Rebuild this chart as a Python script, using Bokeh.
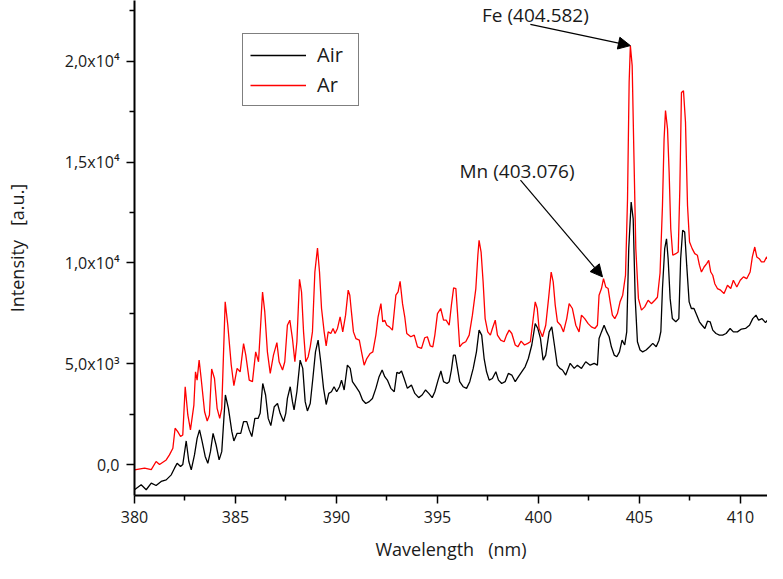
from bokeh.plotting import figure
from bokeh.models import (FixedTicker, Legend, LegendItem, Label, Arrow,
                          NormalHead, Range1d)
from bokeh.embed import file_html
from bokeh.resources import INLINE

# ---------------- data ----------------
wl_ar = [380.0, 380.5, 380.83, 381.07, 381.24, 381.57, 381.73, 381.9, 382.01, 382.14,
         382.28, 382.39, 382.51, 382.64, 382.77, 382.94, 383.02, 383.1, 383.2, 383.3,
         383.47, 383.6, 383.71, 383.82, 383.96, 384.09, 384.22, 384.32, 384.49, 384.62,
         384.79, 384.92, 385.08, 385.23, 385.4, 385.51, 385.68, 385.84, 386.0, 386.14,
         386.34, 386.45, 386.58, 386.72, 386.88, 387.05, 387.16, 387.33, 387.44, 387.57,
         387.69, 387.82, 387.94, 388.04, 388.17, 388.27, 388.37, 388.48, 388.6, 388.7,
         388.81, 388.93, 389.06, 389.16, 389.26, 389.39, 389.49, 389.59, 389.72, 389.83,
         389.93, 390.05, 390.18, 390.31, 390.45, 390.58, 390.66, 390.74, 390.84, 390.96,
         391.13, 391.24, 391.37, 391.5, 391.67, 391.8, 391.95, 392.06, 392.2, 392.29,
         392.39, 392.49, 392.62, 392.77, 392.94, 393.05, 393.15, 393.27, 393.38, 393.48,
         393.68, 393.85, 394.01, 394.21, 394.37, 394.5, 394.64, 394.77, 394.87, 395.0,
         395.16, 395.3, 395.43, 395.58, 395.69, 395.8, 395.91, 395.99, 396.1, 396.24,
         396.4, 396.57, 396.73, 396.9, 397.0, 397.06, 397.16, 397.26, 397.36, 397.49,
         397.62, 397.72, 397.86, 397.97, 398.13, 398.3, 398.42, 398.55, 398.68, 398.85,
         398.98, 399.14, 399.31, 399.47, 399.6, 399.7, 399.84, 399.94, 400.03, 400.2,
         400.36, 400.5, 400.63, 400.73, 400.83, 400.94, 401.1, 401.24, 401.4, 401.52,
         401.68, 401.85, 402.01, 402.13, 402.29, 402.46, 402.62, 402.79, 402.92, 403.0,
         403.12, 403.22, 403.33, 403.45, 403.55, 403.66, 403.78, 403.91, 404.04, 404.17,
         404.31, 404.41, 404.49, 404.55, 404.64, 404.72, 404.82, 404.95, 405.1, 405.26,
         405.43, 405.59, 405.76, 405.89, 406.02, 406.14, 406.22, 406.29, 406.39, 406.47,
         406.55, 406.65, 406.8, 406.92, 407.0, 407.08, 407.18, 407.28, 407.38, 407.48,
         407.61, 407.74, 407.87, 407.97, 408.07, 408.2, 408.33, 408.43, 408.53, 408.63,
         408.73, 408.86, 409.02, 409.19, 409.36, 409.52, 409.65, 409.82, 409.99, 410.15,
         410.31, 410.48, 410.59, 410.71, 410.81, 410.93, 411.04, 411.17, 411.3, 411.44,
         411.54, 411.6, 411.67, 411.73]
int_ar = [-260, -180, -250, 150, 0, 230, 480, 810, 1800, 1630,
          1390, 1470, 3860, 2460, 1720, 2950, 4600, 4190, 5180, 4270,
          2620, 2160, 2460, 4740, 4270, 2790, 2290, 2790, 8070, 6910,
          4940, 3910, 4770, 4600, 6000, 5430, 4190, 4110, 5590, 5100,
          8560, 7570, 5590, 4520, 5430, 6050, 5100, 4690, 5100, 6910,
          7160, 6250, 5100, 6090, 9190, 8560, 6580, 5100, 5350, 5840,
          6580, 9550, 10740, 9550, 7740, 6580, 5890, 6580, 6500, 6750,
          6500, 6750, 7330, 6580, 7410, 8650, 8400, 7570, 6580, 6250,
          6170, 5590, 4930, 5260, 5510, 5590, 6420, 7330, 7980, 7080,
          7160, 6910, 6830, 6670, 8400, 8560, 9090, 7980, 7330, 6500,
          6340, 6420, 5840, 5760, 6290, 6340, 5890, 5840, 6420, 7490,
          7740, 7160, 7160, 6910, 7910, 8760, 8730, 7570, 5840, 6010,
          6090, 6420, 7410, 8730, 10380, 11120, 10540, 9060, 7240, 6580,
          6420, 6750, 7160, 6420, 6170, 6090, 6420, 6670, 6500, 5930,
          5840, 6120, 5930, 6010, 6090, 6910, 8070, 7740, 6750, 6340,
          6910, 8230, 9550, 9060, 7910, 7080, 6910, 6580, 7240, 7980,
          7740, 6910, 6580, 7410, 7240, 6990, 6830, 6750, 6910, 8400,
          8730, 9220, 8810, 8730, 8070, 7410, 7240, 7490, 8070, 8400,
          9390, 13180, 18960, 20780, 19790, 15660, 10710, 8230, 7660, 7820,
          8150, 7980, 8150, 8300, 9500, 12850, 16150, 17560, 16650, 14500,
          11700, 10380, 10460, 10540, 13680, 18460, 18540, 16980, 12850, 11040,
          10710, 10460, 10380, 9890, 9550, 9800, 9970, 10130, 9550, 9390,
          8970, 8730, 8650, 8480, 8890, 8730, 9140, 8810, 9140, 9310,
          9220, 9550, 10300, 10790, 10300, 10210, 10050, 10050, 10300, 9970,
          10210, 12360, 13350, 13600]

wl_air = [380.0, 380.33, 380.58, 380.83, 381.07, 381.32, 381.57, 381.82, 381.98, 382.11,
          382.28, 382.39, 382.56, 382.69, 382.81, 382.97, 383.1, 383.22, 383.35, 383.5,
          383.63, 383.76, 383.89, 384.04, 384.19, 384.32, 384.5, 384.65, 384.82, 384.92,
          385.08, 385.26, 385.4, 385.56, 385.68, 385.81, 385.96, 386.12, 386.22, 386.35,
          386.49, 386.62, 386.75, 386.92, 387.08, 387.21, 387.38, 387.49, 387.57, 387.71,
          387.82, 387.9, 388.04, 388.2, 388.33, 388.45, 388.56, 388.7, 388.83, 388.96,
          389.09, 389.22, 389.36, 389.49, 389.62, 389.75, 389.88, 390.01, 390.15, 390.25,
          390.38, 390.54, 390.68, 390.79, 390.96, 391.13, 391.29, 391.45, 391.62, 391.78,
          391.95, 392.11, 392.26, 392.39, 392.52, 392.69, 392.86, 392.99, 393.1, 393.22,
          393.35, 393.51, 393.71, 393.88, 394.07, 394.24, 394.41, 394.57, 394.74, 394.87,
          395.03, 395.17, 395.3, 395.47, 395.58, 395.69, 395.79, 395.88, 395.99, 396.1,
          396.27, 396.44, 396.6, 396.77, 396.93, 397.06, 397.19, 397.31, 397.43, 397.56,
          397.72, 397.89, 398.02, 398.18, 398.35, 398.51, 398.68, 398.85, 399.01, 399.17,
          399.34, 399.5, 399.67, 399.84, 399.97, 400.1, 400.23, 400.36, 400.53, 400.66,
          400.79, 400.93, 401.06, 401.19, 401.35, 401.57, 401.77, 401.93, 402.13, 402.34,
          402.56, 402.76, 402.92, 403.0, 403.12, 403.25, 403.38, 403.5, 403.61, 403.75,
          403.88, 404.01, 404.14, 404.27, 404.37, 404.47, 404.59, 404.69, 404.79, 404.9,
          405.03, 405.16, 405.33, 405.5, 405.66, 405.83, 405.97, 406.06, 406.14, 406.25,
          406.34, 406.42, 406.52, 406.63, 406.8, 406.95, 407.04, 407.14, 407.24, 407.34,
          407.46, 407.57, 407.7, 407.84, 407.97, 408.1, 408.24, 408.37, 408.5, 408.63,
          408.79, 408.96, 409.12, 409.29, 409.49, 409.65, 409.85, 410.05, 410.25, 410.45,
          410.61, 410.77, 410.9, 411.07, 411.24, 411.4, 411.54, 411.63, 411.73]
int_air = [-1250, -1000, -1250, -920, -1040, -840, -760, -510, -180, 60,
           -100, 0, 1170, 150, -260, 480, 1300, 1720, 1140, 400,
           60, 640, 1550, 970, 230, 640, 3450, 2790, 1630, 1170,
           1550, 1550, 2130, 2130, 1720, 1390, 2290, 2290, 2540, 4020,
           3450, 2290, 1930, 2870, 3030, 2540, 2130, 2540, 3280, 3860,
           3120, 2710, 3610, 5180, 4770, 3120, 2660, 3030, 4270, 5590,
           6170, 5100, 3780, 2980, 3530, 3610, 3860, 3610, 3860, 4190,
           3700, 4930, 4770, 4110, 3860, 3610, 3200, 3030, 3120, 3280,
           3780, 4360, 4690, 4360, 4190, 3780, 3610, 4570, 4520, 4640,
           4270, 3780, 3940, 3530, 3320, 3450, 3700, 3530, 3320, 3610,
           4190, 4640, 4110, 4020, 4110, 4690, 5430, 5430, 4770, 4110,
           3860, 3780, 4110, 4770, 5590, 6670, 6420, 5260, 4600, 4190,
           4270, 4600, 4190, 4020, 4110, 4520, 4440, 4110, 4360, 4600,
           4850, 5260, 5930, 6990, 6750, 6250, 5180, 5430, 6580, 6830,
           5930, 4930, 4770, 4690, 4440, 5020, 4770, 4930, 4770, 5100,
           4930, 5020, 4930, 6250, 6580, 6910, 6580, 6340, 5840, 5430,
           5350, 5590, 6170, 5930, 6580, 10710, 13020, 12190, 8230, 6090,
           5680, 5590, 5680, 5840, 6010, 5840, 6170, 6600, 8730, 10710,
           11200, 10210, 8230, 7240, 7080, 7240, 10210, 11620, 11530, 9890,
           8070, 7740, 7740, 7410, 7080, 6910, 6750, 7110, 7080, 6670,
           6500, 6420, 6420, 6500, 6750, 6580, 6580, 6720, 6750, 6910,
           7240, 7410, 7160, 7240, 7040, 7240, 7410, 8890, 9140]

x_ticks = [380, 385, 390, 395, 400, 405, 410]
x_minor = [382.5, 387.5, 392.5, 397.5, 402.5, 407.5]
y_ticks = [0, 5000, 10000, 15000, 20000]
y_tick_labels = ["0,0", "5,0x10\u00b3", "1,0x10\u2074", "1,5x10\u2074", "2,0x10\u2074"]
y_minor = [2500, 7500, 12500, 17500, 22500]

x_title = "Wavelength\u00a0\u00a0\u00a0(nm)"
y_title = "Intensity\u00a0\u00a0\u00a0[a.u.]"
fe_label = "Fe (404.582)"
fe_peak = (404.55, 20780)
mn_label = "Mn (403.076)"
mn_peak = (403.17, 9310)

FONT = "Open Sans"
TXT = "#1a1a1a"

p = figure(width=767, height=563, output_backend="svg", toolbar_location=None,
           x_range=Range1d(380, 411.34), y_range=Range1d(-1535, 23018),
           min_border_left=134, min_border_right=0, min_border_top=0,
           min_border_bottom=67)
p.outline_line_color = None
p.grid.visible = False
p.background_fill_color = "white"

r_air = p.line(wl_air, int_air, line_color="black", line_width=1.3)
r_ar = p.line(wl_ar, int_ar, line_color="#ff0000", line_width=1.3)

for ax in (p.xaxis[0], p.yaxis[0]):
    ax.axis_line_width = 2
    ax.axis_line_color = "black"
    ax.major_tick_line_width = 1.5
    ax.minor_tick_line_width = 1.5
    ax.major_tick_out = 8
    ax.major_tick_in = 0
    ax.minor_tick_out = 5
    ax.minor_tick_in = 0
    ax.major_label_text_font = FONT
    ax.major_label_text_font_size = "16px"
    ax.major_label_text_color = TXT
    ax.axis_label_text_font = FONT
    ax.axis_label_text_font_size = "18px"
    ax.axis_label_text_font_style = "normal"
    ax.axis_label_text_color = TXT

p.xaxis.ticker = FixedTicker(ticks=x_ticks, minor_ticks=x_minor)
p.yaxis.ticker = FixedTicker(ticks=y_ticks, minor_ticks=y_minor)
p.yaxis.major_label_overrides = {t: s for t, s in zip(y_ticks, y_tick_labels)}
p.xaxis.axis_label = x_title
p.yaxis.axis_label = y_title
p.xaxis.major_label_standoff = 7
p.yaxis.major_label_standoff = 7
p.xaxis.axis_label_standoff = 11
p.yaxis.axis_label_standoff = 33

legend = Legend(items=[LegendItem(label="Air", renderers=[r_air]),
                       LegendItem(label="Ar", renderers=[r_ar])],
                location=(108, 389), orientation="vertical",
                border_line_color="black", border_line_width=1,
                background_fill_color="white", background_fill_alpha=1,
                label_text_font=FONT, label_text_font_size="20px",
                label_text_color=TXT,
                glyph_width=56, glyph_height=24, label_standoff=11,
                label_width=34,
                padding=7, spacing=3, margin=0)
p.add_layout(legend, "center")

p.add_layout(Label(x=399.85, y=22280, text=fe_label, text_align="center",
                   text_baseline="middle", text_font=FONT, text_font_size="19px",
                   text_color=TXT))
p.add_layout(Label(x=398.94, y=14580, text=mn_label, text_align="center",
                   text_baseline="middle", text_font=FONT, text_font_size="19px",
                   text_color=TXT))
p.add_layout(Arrow(end=NormalHead(size=12, fill_color="black", line_color="black"),
                   x_start=399.6, y_start=21830, x_end=fe_peak[0], y_end=fe_peak[1],
                   line_width=1.2, line_color="black"))
p.add_layout(Arrow(end=NormalHead(size=12, fill_color="black", line_color="black"),
                   x_start=399.11, y_start=14110, x_end=mn_peak[0], y_end=mn_peak[1],
                   line_width=1.2, line_color="black"))

open("out.html", "w").write(file_html(p, INLINE))
